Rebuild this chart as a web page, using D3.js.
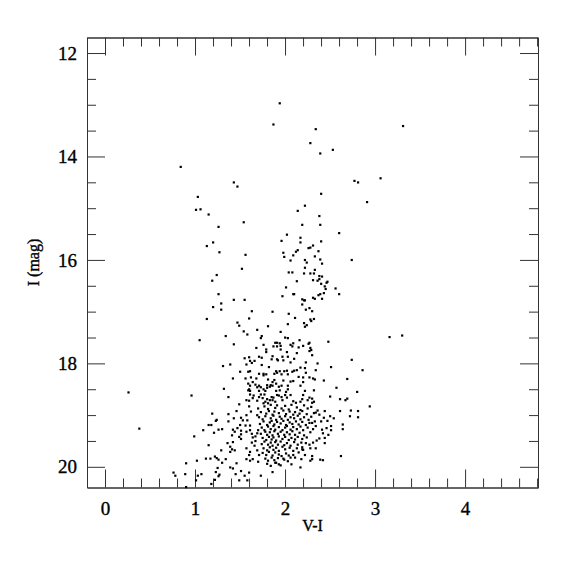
<!DOCTYPE html>
<html>
<head>
<meta charset="utf-8">
<script src="https://cdn.jsdelivr.net/npm/d3@7"></script>
<style>
  body { margin: 0; background: #fff; }
  svg text { font-family: "Liberation Serif", "DejaVu Serif", serif; fill: #000; stroke: #000; stroke-width: 0.35px; }
</style>
</head>
<body>
<svg id="cmd" width="575" height="575"></svg>
<script>
// [V-I, I] pairs
const brightStars = [
  [1.94,12.97],[1.87,13.38],[2.34,13.47],[2.28,13.74],[2.39,13.94],[2.53,13.87],[3.31,13.41],
  [0.84,14.20],[1.43,14.50],[1.47,14.58],[2.77,14.47],[2.81,14.50],[3.06,14.42],[2.40,14.72],
  [1.03,14.78],[2.91,14.88],[1.01,15.03],[1.06,15.02],[1.15,15.12],[2.22,14.95],[2.14,15.05],
  [2.38,15.15],[1.54,15.27],[1.26,15.36],[2.19,15.32],[2.39,15.32],[2.60,15.48]
];

const giantBranch = [
  [2.02,15.51],[2.17,15.57],[1.96,15.63],[1.20,15.66],[2.17,15.66],[2.40,15.64],[1.13,15.73],
  [2.26,15.77],[2.28,15.76],[2.31,15.72],[1.98,15.86],[2.12,15.84],[2.14,15.81],[2.37,15.83],
  [1.27,15.85],[1.56,15.90],[1.99,15.94],[2.09,15.91],[2.33,15.93],[2.06,16.01],[2.22,16.00],
  [2.39,15.99],[2.24,16.05],[2.41,16.07],[2.74,16.00],[1.52,16.17],[2.22,16.15],[2.33,16.19],
  [2.04,16.24],[2.08,16.24],[2.21,16.26],[2.28,16.26],[2.32,16.26],[1.24,16.29],[2.38,16.31],
  [2.41,16.32],[1.19,16.40],[2.13,16.41],[2.31,16.39],[2.36,16.40],[2.38,16.37],[2.40,16.46],
  [2.46,16.44],[2.47,16.42],[2.01,16.53],[2.44,16.51],[2.45,16.56],[2.56,16.55],[1.26,16.66],
  [1.97,16.70],[2.09,16.66],[2.10,16.66],[2.37,16.68],[2.39,16.66],[2.43,16.64],[2.41,16.75],
  [2.60,16.66],[2.31,16.73],[2.33,16.75],[1.29,16.84],[1.43,16.77],[1.55,16.77],[2.19,16.76],
  [2.21,16.78],[2.22,16.78],[2.19,16.86],[1.20,16.91],[1.29,16.96],[2.23,16.96],[2.27,16.93],
  [2.30,16.99],[1.63,16.99],[1.86,17.00],[2.04,17.04],[2.11,17.12],[2.28,17.15],[2.32,17.14],
  [1.60,17.13],[1.13,17.14]
];

const blueStars = [
  [0.26,18.56],[0.38,19.26],[0.96,18.62],[1.05,17.55],[0.76,20.11],[0.78,20.17]
];

const subgiants = [
  [1.47,17.21],[1.49,17.27],[1.69,17.35],[1.54,17.38],[1.58,17.44],[1.34,17.47],[1.43,17.63],
  [1.68,17.70],[1.55,17.90],[1.60,17.88],[1.71,17.87],[1.61,17.95],[1.63,17.99],[1.66,17.95],
  [1.57,18.02],[1.39,18.02],[1.31,18.05],[1.50,18.16],[1.59,18.16],[1.61,18.15],[1.71,18.20],
  [1.42,18.29],[1.56,18.29],[1.62,18.27],[1.68,18.29],[1.64,18.36],[1.59,18.39],[1.67,18.41],
  [1.71,18.43],[1.69,18.46],[1.61,18.43],[1.32,18.49],[1.60,18.50],[1.59,18.52],[1.61,18.53],
  [1.71,18.53],[1.61,18.60],[1.65,18.62],[1.64,18.67],[1.37,18.65],[1.71,18.65],[1.57,18.71],
  [1.60,18.72],[1.69,18.72],[1.49,18.79],
  [1.81,17.28],[2.03,17.24],[2.21,17.22],[2.24,17.26],[2.22,17.29],[2.29,17.18],[1.95,17.39],
  [1.74,17.47],[1.73,17.51],[2.00,17.50],[2.03,17.51],[2.16,17.55],[2.27,17.60],[2.26,17.62],
  [2.48,17.58],[1.89,17.60],[1.91,17.60],[1.94,17.61],[1.95,17.66],[1.87,17.67],[1.91,17.67],
  [2.09,17.61],[2.06,17.64],[2.08,17.67],[1.76,17.64],[2.15,17.69],[2.20,17.66],[2.28,17.70],
  [2.29,17.74],[2.27,17.76],[2.30,17.84],[1.79,17.73],[1.79,17.78],[1.95,17.73],[2.02,17.78],
  [2.13,17.80],[1.86,17.86],[1.91,17.92],[1.85,17.92],[1.92,17.94],[1.98,17.94],[1.97,17.87],
  [2.03,17.87],[2.10,17.91],[2.06,17.98],[1.74,17.89],[2.23,17.98],[2.36,18.00],[1.74,18.03],
  [1.82,18.07],[2.17,18.08],[2.22,18.09],[2.51,18.07],[1.90,18.15],[1.91,18.18],[1.94,18.15],
  [1.99,18.15],[2.02,18.14],[2.08,18.16],[2.10,18.14],[2.13,18.13],[2.23,18.18],[2.34,18.13],
  [1.76,18.20],[1.79,18.21],[1.76,18.23],[1.88,18.20],[1.96,18.21],[2.03,18.21],[2.15,18.26],
  [2.20,18.27],[2.27,18.27],[2.31,18.29],[2.33,18.31],[2.43,18.33],[1.81,18.31],[1.86,18.36],
  [1.88,18.32],[1.90,18.39],[1.98,18.33],[2.06,18.35],[2.09,18.34],[2.20,18.36],[1.84,18.42],
  [1.83,18.45],[1.86,18.43],[1.80,18.42],[1.80,18.47],[1.93,18.45],[1.96,18.43],[2.03,18.43],
  [2.03,18.50],[2.17,18.43],[2.22,18.53],[2.20,18.61],[2.57,18.47],[2.32,18.52],[1.76,18.50],
  [1.73,18.46],[1.78,18.53],[1.90,18.53],[1.94,18.52],[2.01,18.55],[1.73,18.60],[1.77,18.60],
  [1.75,18.67],[1.85,18.65],[1.87,18.66],[1.86,18.71],[1.83,18.71],[1.91,18.61],[1.93,18.62],
  [1.96,18.65],[2.00,18.61],[2.02,18.66],[2.06,18.61],[2.27,18.66],[2.30,18.68],[2.25,18.71],
  [2.50,18.64],[2.09,18.73],[2.12,18.76],[2.19,18.69],[2.17,18.74],[1.89,18.74],[1.78,18.74],
  [1.81,18.77],[1.76,18.77],[1.97,18.71],[2.30,18.76],[2.32,18.74],[1.80,18.69]
];

const lowerStars = [
  [1.19,18.97],[1.15,19.19],[1.18,19.19],[1.23,19.11],[1.24,19.09],[1.09,19.29],[0.99,19.41],
  [1.21,19.34],[1.26,19.28],[1.30,19.27],[1.37,18.98],[1.37,19.12],[1.43,19.06],[1.46,18.92],
  [1.53,19.10],[1.51,19.05],[1.50,19.19],[1.57,19.00],[1.58,19.10],[1.62,18.93],[1.60,18.83],
  [1.70,18.87],[1.69,19.00],[1.42,19.28],[1.44,19.32],[1.41,19.39],[1.47,19.25],[1.51,19.30],
  [1.51,19.37],[1.49,19.42],[1.51,19.46],[1.56,19.20],[1.57,19.32],[1.61,19.20],[1.61,19.29],
  [1.63,19.36],[1.64,19.43],[1.67,19.41],[1.69,19.35],[1.70,19.29],[1.63,19.53],[1.67,19.50],
  [1.66,19.59],[1.15,19.58],[1.36,19.54],[1.39,19.61],[1.41,19.66],[1.39,19.71],[1.29,19.68],
  [1.44,19.68],[1.42,19.52],[1.57,19.64],[1.61,19.71],[1.60,19.77],[1.64,19.85],[1.69,19.68],
  [1.71,19.77],[1.57,19.85],[1.61,19.88],[1.70,19.90],[1.34,19.85],[1.22,19.80],[1.24,19.83],
  [1.26,19.86],[1.30,19.92],[1.17,19.84],[1.12,19.84],[1.02,19.88],[0.90,19.93],[1.25,20.02],
  [1.23,20.10],[1.27,20.15],[1.39,20.01],[1.42,20.03],[1.46,19.93],[1.51,20.08],[1.45,20.14],
  [1.55,20.17],[1.60,20.11],[1.49,20.26],[1.58,20.26],[0.89,20.14],[1.03,20.17],[1.07,20.14],
  [1.26,20.18],[1.22,20.25],[1.18,20.33],[1.01,20.26],[0.90,20.39],
  [2.44,18.92],[2.54,19.06],[2.50,19.02],[2.47,19.11],[2.43,19.05],[2.38,18.99],[2.34,18.95],
  [2.40,19.12],[2.51,19.21],[2.51,19.29],[2.46,19.25],[2.41,19.28],[2.42,19.35],[2.34,19.21],
  [2.30,19.15],[2.48,19.38],[2.44,19.44],[2.38,19.45],[2.35,19.49],[2.31,19.53],[2.27,19.57],
  [2.23,19.54],[2.28,19.64],[2.34,19.64],[2.44,19.54],[2.19,19.62],[2.19,19.66],[2.30,19.79],
  [2.30,19.85],[2.28,19.88],[2.39,19.86],[2.42,19.87],[2.62,19.79],[2.17,20.01],[1.98,19.84],
  [2.06,19.82],[1.89,19.92],[1.93,19.95],[1.86,20.10],[1.73,20.17],[2.09,19.77],[2.11,19.82]
];

const coreStars = [
  [1.77,18.83],[1.81,18.88],[1.84,18.80],[1.89,18.86],[1.91,18.81],[1.96,18.87],[2.00,18.82],
  [2.04,18.89],[2.07,18.80],[2.13,18.85],[2.17,18.90],[2.21,18.81],[2.25,18.87],[2.29,18.84],
  [1.73,18.94],[1.79,18.97],[1.82,18.92],[1.86,18.99],[1.88,18.93],[1.93,18.96],[1.98,18.91],
  [2.01,18.98],[2.05,18.93],[2.09,18.99],[2.11,18.94],[2.16,18.97],[2.19,18.92],[2.24,18.98],
  [2.32,18.96],[2.36,18.91],
  [1.71,19.04],[1.75,19.08],[1.78,19.02],[1.84,19.06],[1.87,19.01],[1.90,19.09],[1.94,19.03],
  [1.96,19.07],[2.00,19.02],[2.03,19.09],[2.06,19.04],[2.10,19.06],[2.14,19.01],[2.17,19.08],
  [2.21,19.04],[2.26,19.09],[2.29,19.03],
  [1.72,19.17],[1.76,19.12],[1.80,19.19],[1.83,19.14],[1.85,19.11],[1.88,19.18],[1.91,19.13],
  [1.95,19.16],[1.98,19.11],[2.01,19.19],[2.05,19.14],[2.08,19.17],[2.12,19.12],[2.15,19.18],
  [2.19,19.13],[2.23,19.19],[2.27,19.15],[2.33,19.12],
  [1.74,19.24],[1.77,19.29],[1.81,19.22],[1.84,19.27],[1.87,19.21],[1.89,19.28],[1.93,19.23],
  [1.97,19.29],[2.00,19.24],[2.02,19.21],[2.06,19.28],[2.09,19.23],[2.13,19.27],[2.17,19.22],
  [2.20,19.29],[2.25,19.24],[2.31,19.27],
  [1.73,19.36],[1.78,19.32],[1.80,19.38],[1.83,19.33],[1.86,19.39],[1.88,19.31],[1.92,19.36],
  [1.95,19.32],[1.99,19.38],[2.02,19.33],[2.05,19.37],[2.08,19.31],[2.11,19.38],[2.16,19.34],
  [2.21,19.39],[2.28,19.33],
  [1.75,19.44],[1.79,19.48],[1.82,19.42],[1.85,19.47],[1.87,19.43],[1.90,19.49],[1.93,19.41],
  [1.97,19.46],[2.00,19.42],[2.04,19.48],[2.07,19.44],[2.11,19.47],[2.14,19.42],[2.19,19.46],
  [2.24,19.43],
  [1.74,19.56],[1.77,19.51],[1.81,19.57],[1.84,19.53],[1.86,19.59],[1.89,19.52],[1.92,19.57],
  [1.95,19.51],[1.99,19.58],[2.02,19.54],[2.06,19.59],[2.10,19.52],[2.14,19.57],[2.18,19.53],
  [1.76,19.64],[1.80,19.68],[1.83,19.62],[1.87,19.67],[1.90,19.63],[1.93,19.69],[1.97,19.61],
  [2.00,19.66],[2.05,19.63],[2.09,19.69],[2.13,19.64],[2.20,19.67],
  [1.75,19.73],[1.79,19.77],[1.82,19.71],[1.86,19.78],[1.89,19.72],[1.93,19.76],[1.96,19.79],
  [2.01,19.74],[2.04,19.78],[2.15,19.72],[2.22,19.77],
  [1.78,19.84],[1.81,19.88],[1.85,19.82],[1.88,19.87],[1.92,19.83],[1.99,19.86],[2.03,19.89],
  [2.18,19.85],[1.80,19.94],[1.84,19.98],[1.90,19.92],[1.95,19.97],[2.07,19.95]
];

const redStars = [
  [3.16,17.49],[3.30,17.46],[2.74,17.93],[2.86,18.13],[2.69,18.30],[2.80,18.55],[2.61,18.69],
  [2.67,18.71],[2.69,18.68],[2.94,18.83],[2.61,18.92],[2.73,18.91],[2.81,18.92],[2.72,19.02],
  [2.81,19.04],[2.64,19.18],[2.64,19.27]
];

const xMajorTicks = [0, 1, 2, 3, 4];
const yMajorTicks = [12, 14, 16, 18, 20];
const xLabel = "V-I";
const yLabel = "I (mag)";

const stars = [].concat(brightStars, giantBranch, blueStars, subgiants, lowerStars, coreStars, redStars);

const svg = d3.select("#cmd");
const plotLeft = 87, plotRight = 538, plotTop = 37.5, plotBottom = 487.5;

const x = d3.scaleLinear().domain([-0.2, 4.81]).range([plotLeft, plotRight]);
const y = d3.scaleLinear().domain([11.7, 20.4]).range([plotTop, plotBottom]);

const xMinorTicks = d3.range(-0.2, 4.81, 0.2).map(v => +v.toFixed(1)).filter(v => !xMajorTicks.includes(v));
const yMinorTicks = d3.range(12, 20.41, 0.5).filter(v => !yMajorTicks.includes(v));

function styleAxis(g) {
  g.attr("font-family", null).attr("font-size", null);
  g.selectAll("path, line").attr("stroke", "#333");
  g.selectAll("text")
    .style("font-family", "'Liberation Serif', 'DejaVu Serif', serif")
    .style("font-size", "19px")
    .attr("fill", "#000");
}

// major + minor ticks on every side, pointing inward
svg.append("g").attr("transform", `translate(0,${plotBottom})`)
  .call(d3.axisBottom(x).tickValues(xMajorTicks).tickSize(-18).tickSizeOuter(0).tickPadding(14).tickFormat(d3.format("d")))
  .call(styleAxis);
svg.append("g").attr("transform", `translate(0,${plotBottom})`)
  .call(d3.axisBottom(x).tickValues(xMinorTicks).tickSize(-9).tickSizeOuter(0).tickFormat(""))
  .call(styleAxis);
svg.append("g").attr("transform", `translate(0,${plotTop})`)
  .call(d3.axisTop(x).tickValues(xMajorTicks).tickSize(-18).tickSizeOuter(0).tickFormat(""))
  .call(styleAxis);
svg.append("g").attr("transform", `translate(0,${plotTop})`)
  .call(d3.axisTop(x).tickValues(xMinorTicks).tickSize(-9).tickSizeOuter(0).tickFormat(""))
  .call(styleAxis);

svg.append("g").attr("transform", `translate(${plotLeft},0)`)
  .call(d3.axisLeft(y).tickValues(yMajorTicks).tickSize(-18).tickSizeOuter(0).tickPadding(10).tickFormat(d3.format("d")))
  .call(styleAxis);
svg.append("g").attr("transform", `translate(${plotLeft},0)`)
  .call(d3.axisLeft(y).tickValues(yMinorTicks).tickSize(-9).tickSizeOuter(0).tickFormat(""))
  .call(styleAxis);
svg.append("g").attr("transform", `translate(${plotRight},0)`)
  .call(d3.axisRight(y).tickValues(yMajorTicks).tickSize(-18).tickSizeOuter(0).tickFormat(""))
  .call(styleAxis);
svg.append("g").attr("transform", `translate(${plotRight},0)`)
  .call(d3.axisRight(y).tickValues(yMinorTicks).tickSize(-9).tickSizeOuter(0).tickFormat(""))
  .call(styleAxis);

// stars
svg.append("g")
  .selectAll("rect")
  .data(stars)
  .join("rect")
  .attr("x", d => x(d[0]) - 1)
  .attr("y", d => y(d[1]) - 1)
  .attr("width", 2.2)
  .attr("height", 2.2)
  .attr("fill", "#000");

// axis titles
svg.append("text")
  .attr("x", (plotLeft + plotRight) / 2)
  .attr("y", 531)
  .attr("text-anchor", "middle")
  .attr("font-size", 16)
  .text(xLabel);

svg.append("text")
  .attr("transform", `translate(39,${(plotTop + plotBottom) / 2}) rotate(-90)`)
  .attr("text-anchor", "middle")
  .attr("font-size", 16)
  .text(yLabel);
</script>
</body>
</html>
